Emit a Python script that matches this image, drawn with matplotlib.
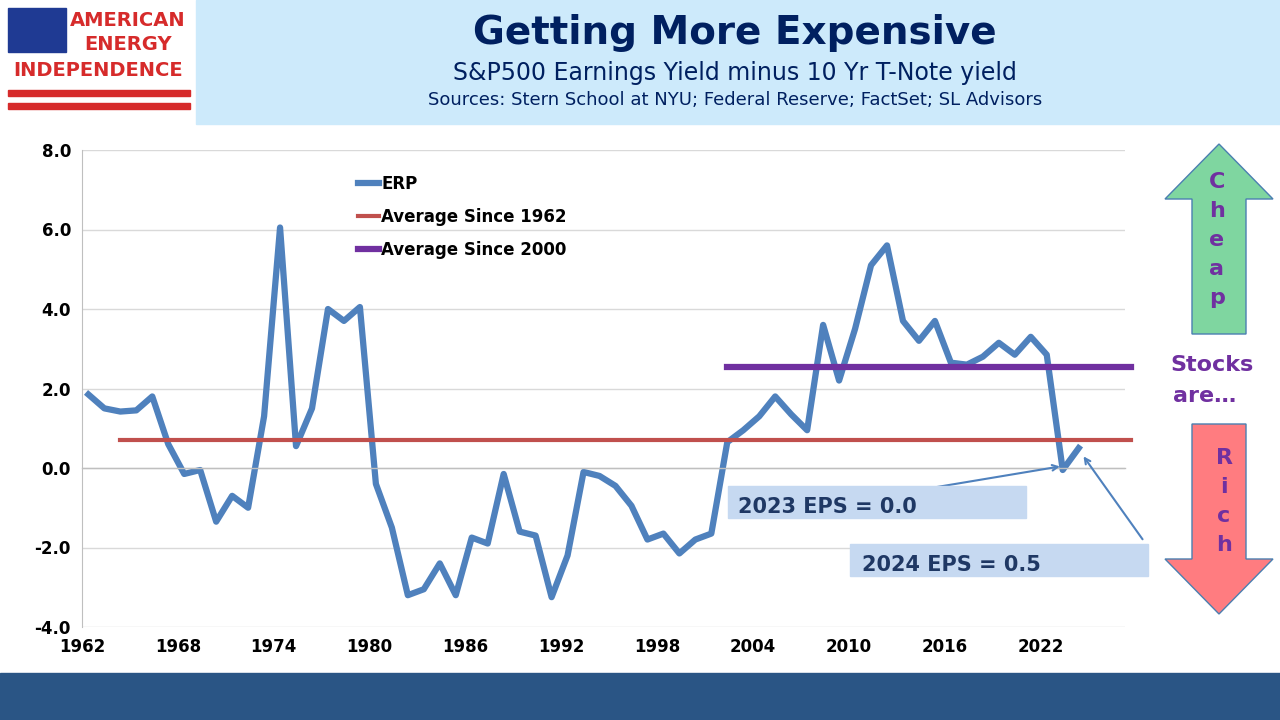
import matplotlib
matplotlib.use("Agg")
import matplotlib.pyplot as plt
from matplotlib.patches import Rectangle, FancyArrow

years = list(range(1962, 2025))
erp = [1.85,1.5,1.42,1.45,1.8,0.6,-0.15,-0.05,-1.35,-0.7,-1.0,1.3,6.05,0.55,1.5,4.0,3.7,4.05,
       -0.4,-1.5,-3.2,-3.05,-2.4,-3.2,-1.75,-1.9,-0.15,-1.6,-1.7,-3.25,-2.2,-0.1,-0.2,-0.45,
       -0.95,-1.8,-1.65,-2.15,-1.8,-1.65,0.65,0.95,1.3,1.8,1.35,0.95,3.6,2.2,3.5,5.1,5.6,3.7,
       3.2,3.7,2.65,2.6,2.8,3.15,2.85,3.3,2.85,-0.05,0.5]
avg1962_span = [1964, 2027.3]; avg1962 = 0.7
avg2000_span = [2002, 2027.3]; avg2000 = 2.55
xticks = list(range(1962, 2023, 6))
yticks = [-4, -2, 0, 2, 4, 6, 8]
off = 0.4  # category-axis centring offset

W, H = 1280, 720
fig = plt.figure(figsize=(12.8, 7.2), dpi=100)
ax = fig.add_axes([82/W, 1-627/H, (1125-82)/W, (627-150)/H])
ax.plot([y+off for y in years], erp, color='#4f81bd', lw=4.5, label='ERP', solid_joinstyle='round')
ax.plot([y+off for y in avg1962_span], [avg1962]*2, color='#c0504d', lw=3, label='Average Since 1962')
ax.plot([y+off for y in avg2000_span], [avg2000]*2, color='#7030a0', lw=4.5, label='Average Since 2000')
ax.set_xlim(1962, 2027.3); ax.set_ylim(-4, 8)
ax.set_xticks(xticks); ax.set_yticks(yticks)
ax.set_yticklabels([f"{v:.1f}" for v in yticks])
ax.tick_params(labelsize=12, length=0, pad=8)
for l in ax.get_xticklabels()+ax.get_yticklabels(): l.set_fontweight('bold')
ax.yaxis.grid(True, color='#d9d9d9', lw=1)
for s in ['top','right']: ax.spines[s].set_visible(False)
ax.spines['left'].set_color('#bfbfbf'); ax.spines['bottom'].set_visible(False)
ax.axhline(0, color='#bfbfbf', lw=1)
for ln in ax.lines: ln.set_clip_on(False)
ax.legend(loc='upper left', bbox_to_anchor=(0.25, 0.98), frameon=False,
          handlelength=1.3, labelspacing=0.9, handletextpad=0.1, prop={'weight':'bold','size':12})
ax.annotate('', xy=(2023.4, 0.05), xytext=(2015.2, -0.5),
            arrowprops=dict(arrowstyle='->', color='#4f81bd', lw=1.5))
ax.annotate('', xy=(2024.6, 0.35), xytext=(2028.5, -1.85),
            arrowprops=dict(arrowstyle='->', color='#4f81bd', lw=1.5), annotation_clip=False)
fig.patches.append(Rectangle((728/W, 1-518/H), 298/W, 32/H, transform=fig.transFigure, color='#c6d9f1', zorder=0))
fig.text(738/W, 1-507/H, '2023 EPS = 0.0', fontsize=15, fontweight='bold', color='#1f3864', va='center')
fig.patches.append(Rectangle((850/W, 1-576/H), 298/W, 32/H, transform=fig.transFigure, color='#c6d9f1', zorder=0))
fig.text(862/W, 1-565/H, '2024 EPS = 0.5', fontsize=15, fontweight='bold', color='#1f3864', va='center')

fig.patches.append(Rectangle((196/W, 1-124/H), (W-196)/W, 124/H, transform=fig.transFigure, color='#cdeafb', zorder=0))
fig.text(735/W, 1-33/H, 'Getting More Expensive', fontsize=28, fontweight='bold', color='#002060', ha='center', va='center')
fig.text(735/W, 1-73/H, 'S&P500 Earnings Yield minus 10 Yr T-Note yield', fontsize=17, color='#002060', ha='center', va='center')
fig.text(735/W, 1-100/H, 'Sources: Stern School at NYU; Federal Reserve; FactSet; SL Advisors', fontsize=13, color='#002060', ha='center', va='center')
fig.patches.append(Rectangle((8/W, 1-52/H), 58/W, 44/H, transform=fig.transFigure, color='#1f3a93'))
fig.text(128/W, 1-20/H, 'AMERICAN', fontsize=14, fontweight='bold', color='#d62b2b', ha='center', va='center')
fig.text(128/W, 1-45/H, 'ENERGY', fontsize=14, fontweight='bold', color='#d62b2b', ha='center', va='center')
fig.text(98/W, 1-70/H, 'INDEPENDENCE', fontsize=14, fontweight='bold', color='#d62b2b', ha='center', va='center')
for yy in [90, 103]:
    fig.patches.append(Rectangle((8/W, 1-(yy+6)/H), 182/W, 6/H, transform=fig.transFigure, color='#d62b2b'))
fig.patches.append(Rectangle((0, 0), 1, 47/H, transform=fig.transFigure, color='#2a5585'))
fig.patches.append(FancyArrow(1219/W, 1-334/H, 0, 190/H, width=54/W, head_width=108/W, head_length=55/H,
                              length_includes_head=True, transform=fig.transFigure, fc='#7fd6a0', ec='#4a7fb0', lw=1))
fig.patches.append(FancyArrow(1219/W, 1-424/H, 0, -190/H, width=54/W, head_width=108/W, head_length=55/H,
                              length_includes_head=True, transform=fig.transFigure, fc='#ff7c80', ec='#4a7fb0', lw=1))
for i, c in enumerate('Cheap'):
    fig.text(1217/W, 1-(182+29*i)/H, c, fontsize=16, fontweight='bold', color='#7030a0', ha='center', va='center')
for i, c in enumerate('Rich'):
    fig.text(1224/W, 1-(458+29*i)/H, c, fontsize=16, fontweight='bold', color='#7030a0', ha='center', va='center')
fig.text(1212/W, 1-365/H, 'Stocks', fontsize=16, fontweight='bold', color='#7030a0', ha='center', va='center')
fig.text(1205/W, 1-396/H, 'are…', fontsize=16, fontweight='bold', color='#7030a0', ha='center', va='center')
fig.savefig('out.png', dpi=100)
